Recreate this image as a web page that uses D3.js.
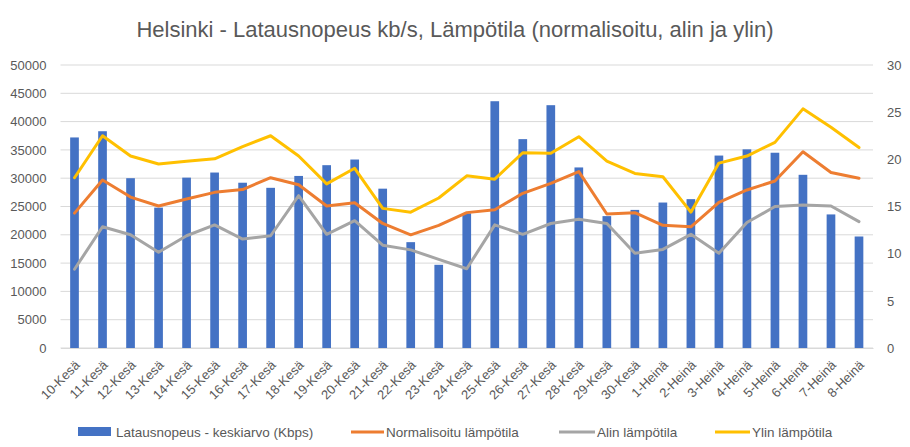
<!DOCTYPE html>
<html><head><meta charset="utf-8">
<script src="https://cdn.jsdelivr.net/npm/d3@7"></script>
<style>body{margin:0;background:#fff}svg text{font-family:"Liberation Sans",Arial,sans-serif}</style>
</head><body><svg id="c" width="910" height="447"></svg>
<script>
const categories = ["10-Kesä","11-Kesä","12-Kesä","13-Kesä","14-Kesä","15-Kesä","16-Kesä","17-Kesä","18-Kesä","19-Kesä","20-Kesä","21-Kesä","22-Kesä","23-Kesä","24-Kesä","25-Kesä","26-Kesä","27-Kesä","28-Kesä","29-Kesä","30-Kesä","1-Heinä","2-Heinä","3-Heinä","4-Heinä","5-Heinä","6-Heinä","7-Heinä","8-Heinä"];
const speed = [37200,38300,30000,24800,30100,31000,29200,28300,30400,32300,33300,28150,18700,14700,23800,43600,36900,42900,31900,23300,24400,25700,26300,34000,35100,34500,30600,23600,19700];
const normTemp = [14.3,17.8,16.0,15.05,15.8,16.5,16.8,18.05,17.3,15.05,15.4,13.2,12.0,13.0,14.35,14.65,16.4,17.45,18.7,14.2,14.35,13.0,12.85,15.45,16.75,17.7,20.8,18.6,18.0];
const minTemp = [8.35,12.85,12.0,10.15,11.9,13.05,11.55,11.9,16.15,12.05,13.5,10.9,10.4,9.4,8.4,13.05,12.05,13.2,13.65,13.2,10.05,10.45,12.05,10.05,13.3,15.0,15.15,15.05,13.4];
const maxTemp = [18.05,22.5,20.35,19.5,19.8,20.05,21.35,22.5,20.35,17.4,19.05,14.8,14.4,15.9,18.25,17.9,20.7,20.65,22.4,19.8,18.5,18.15,14.4,19.6,20.35,21.8,25.35,23.4,21.25];
const leftTicks = [0,5000,10000,15000,20000,25000,30000,35000,40000,45000,50000];
const rightTicks = [0,5,10,15,20,25,30];
const title = "Helsinki - Latausnopeus kb/s, Lämpötila (normalisoitu, alin ja ylin)";
const seriesNames = ["Latausnopeus - keskiarvo (Kbps)","Normalisoitu lämpötila","Alin lämpötila","Ylin lämpötila"];

const colors = {bar:"#4472C4", norm:"#ED7D31", min:"#A5A5A5", max:"#FFC000"};
const svg = d3.select("#c");
const L=60.5, R=873, T=65, B=348;
const x = d3.scaleBand().domain(categories).range([L,R]).paddingInner(0.69).paddingOuter(0.345);
const yL = d3.scaleLinear().domain([0,50000]).range([B,T]);
const yR = d3.scaleLinear().domain([0,30]).range([B,T]);

// grid
svg.append("g").selectAll("line").data(leftTicks).join("line")
  .attr("x1",L).attr("x2",R).attr("y1",d=>yL(d)).attr("y2",d=>yL(d))
  .attr("stroke","#D9D9D9").attr("stroke-width",1);

// title
svg.append("text").attr("x",455).attr("y",37).attr("text-anchor","middle")
  .attr("font-size",22).attr("fill","#595959").text(title);

// left axis
const gl = svg.append("g").attr("transform",`translate(${L},0)`)
  .call(d3.axisLeft(yL).tickValues(leftTicks).tickSize(0).tickPadding(14).tickFormat(d3.format("d")));
gl.select(".domain").remove();
gl.selectAll("text").attr("font-size",13).attr("fill","#595959").style("font-family","Liberation Sans, Arial, sans-serif");

// right axis
const gr = svg.append("g").attr("transform",`translate(${R},0)`)
  .call(d3.axisRight(yR).tickValues(rightTicks).tickSize(0).tickPadding(14));
gr.select(".domain").remove();
gr.selectAll("text").attr("font-size",13).attr("fill","#595959").style("font-family","Liberation Sans, Arial, sans-serif");

// bars
svg.append("g").selectAll("rect").data(speed).join("rect")
  .attr("x",(d,i)=>x(categories[i])).attr("width",x.bandwidth())
  .attr("y",d=>yL(d)).attr("height",d=>B-yL(d)).attr("fill",colors.bar);

// x axis labels
const gx = svg.append("g").attr("transform",`translate(0,${B})`)
  .call(d3.axisBottom(x).tickSize(0).tickPadding(0));
gx.select(".domain").attr("stroke","#D9D9D9");
gx.selectAll("text").attr("font-size",13).attr("fill","#595959")
  .style("font-family","Liberation Sans, Arial, sans-serif")
  .attr("text-anchor","end").attr("dy",0).attr("y",0)
  .attr("transform","translate(6,18) rotate(-45)");

// lines
const cx = i => x(categories[i]) + x.bandwidth()/2;
const line = d3.line().x((d,i)=>cx(i)).y(d=>yR(d));
[[normTemp,colors.norm],[minTemp,colors.min],[maxTemp,colors.max]].forEach(([data,c])=>{
  svg.append("path").datum(data).attr("d",line).attr("fill","none")
    .attr("stroke",c).attr("stroke-width",3).attr("stroke-linejoin","round").attr("stroke-linecap","round");
});

// legend
const ly = 432;
const leg = [
  {t:seriesNames[0], c:colors.bar, x:78, type:"rect", tx:116},
  {t:seriesNames[1], c:colors.norm, x:351, type:"line", tx:386},
  {t:seriesNames[2], c:colors.min, x:559, type:"line", tx:597},
  {t:seriesNames[3], c:colors.max, x:715, type:"line", tx:752}
];
leg.forEach(l=>{
  if(l.type==="rect") svg.append("rect").attr("x",l.x).attr("y",ly-5).attr("width",33).attr("height",9).attr("fill",l.c);
  else svg.append("line").attr("x1",l.x).attr("x2",l.tx-2).attr("y1",ly).attr("y2",ly).attr("stroke",l.c).attr("stroke-width",3);
  svg.append("text").attr("x",l.tx).attr("y",ly+5).attr("font-size",13.5).attr("fill","#595959").text(l.t);
});
</script></body></html>
